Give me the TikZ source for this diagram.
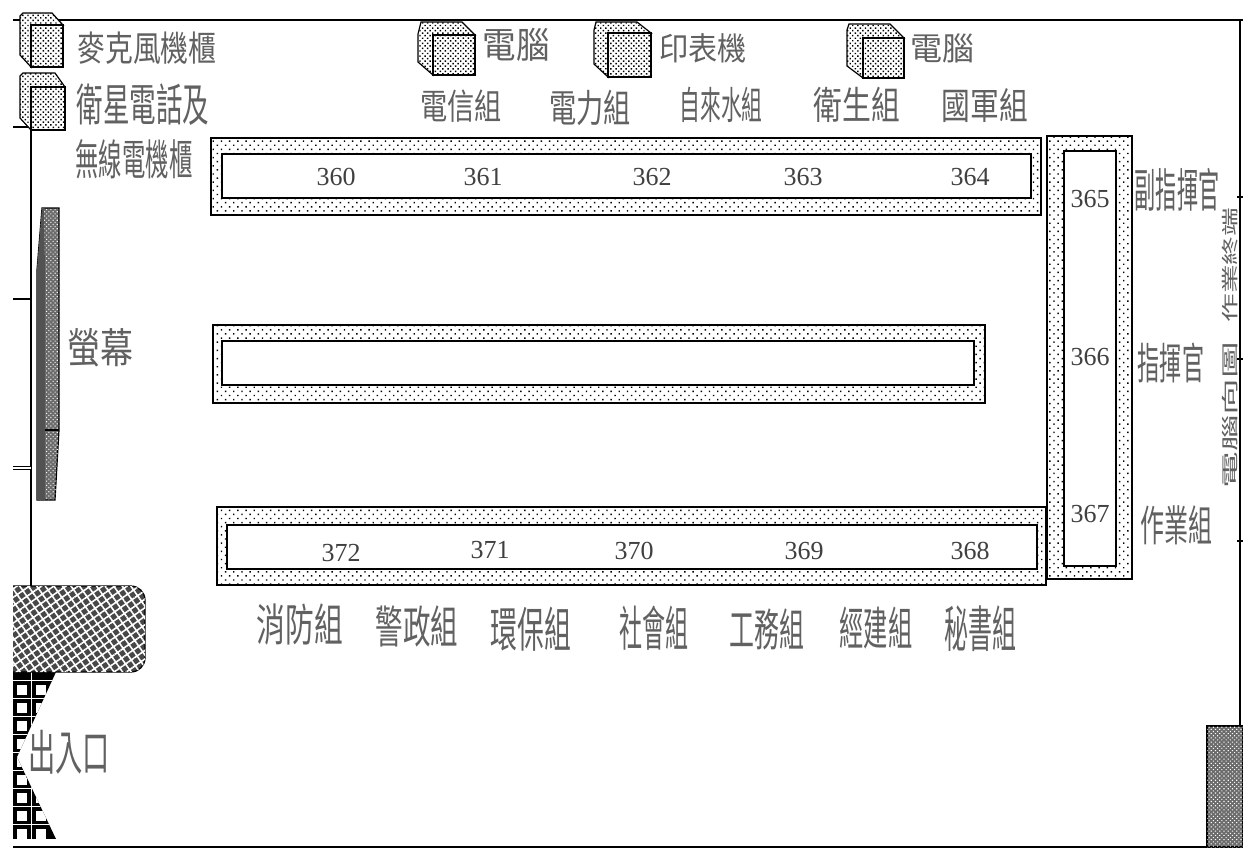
\documentclass[tikz,border=0pt]{standalone}
\usepackage{fontspec}
\setmainfont{Liberation Serif}
\newfontfamily\cjk{Noto Sans CJK TC}
\usetikzlibrary{patterns.meta}
\tikzset{
    deskouter/.style={draw,line width=1.5pt,pattern={Dots[distance=5.8pt,angle=45,radius=1pt]},pattern color=black},
    deskinner/.style={draw,line width=1.5pt,fill=white},
    wall/.style={draw,line width=1.3pt},
    dense/.style={draw,line width=1.2pt,fill=black!58,postaction={pattern={Dots[distance=3pt,angle=45,radius=.75pt]},pattern color=white}},
    cabside/.style={draw,line width=1.2pt,fill=white,postaction={pattern={Dots[distance=3.6pt,angle=45,radius=1pt]},pattern color=black}},
    cabfront/.style={draw,line width=1.5pt,fill=white,postaction={pattern={Dots[distance=3.6pt,angle=45,radius=1.05pt]},pattern color=black}},
}
\begin{document}
\begin{tikzpicture}[x=1pt,y=1pt,yscale=-1]
\useasboundingbox (0,0) rectangle (1243,863);
\fill[white] (0,0) rectangle (1243,863);

% walls
\draw[wall] (13,20) -- (1243,20);
\draw[wall] (13,847) -- (1243,847);
\draw[wall] (13,127) -- (31,127) -- (31,587);
\draw[line width=2.2pt] (13,299) -- (31,299);
\draw[line width=.9pt,double,double distance=1.5pt] (13,468) -- (31,468);
\draw[wall] (1240,20) -- (1240,726);
\draw[line width=2.2pt] (1237,197) -- (1243,197);
\draw[line width=2.2pt] (1237,359) -- (1243,359);
\draw[line width=1.5pt] (1237,541) -- (1243,541);

% desks
\path[deskouter] (211,138) rectangle (1041,215);
\path[deskinner] (222,154) rectangle (1031,198);
\path[deskouter] (213,325) rectangle (985,403);
\path[deskinner] (222,341) rectangle (974,385);
\path[deskouter] (217,507) rectangle (1046,585);
\path[deskinner] (227,525) rectangle (1037,569);
\path[deskouter] (1047,136) rectangle (1132,579);
\path[deskinner] (1064,151) rectangle (1116,566);

\begin{scope}[every node/.style={font=\fontsize{26}{26}\selectfont,text=black!75,inner sep=0pt}]
    \node (n360) at (336,177) {360};
    \node (n361) at (483,177) {361};
    \node (n362) at (652,177) {362};
    \node (n363) at (803,177) {363};
    \node (n364) at (970,177) {364};
    \node (n365) at (1090,199) {365};
    \node (n366) at (1090,357) {366};
    \node (n367) at (1090,514) {367};
    \node (n368) at (970,551) {368};
    \node (n369) at (804,551) {369};
    \node (n370) at (634,551) {370};
    \node (n371) at (490,550) {371};
    \node (n372) at (341,553) {372};
\end{scope}

% screen
\path[dense] (42,208) -- (59,208) -- (59,430) -- (55,500) -- (37,500) -- (37,270) -- cycle;
\fill[black!68] (42,208) -- (44,208) -- (45,270) -- (45,500) -- (37,500) -- (37,270) -- cycle;
\draw[line width=1.5pt] (45,430) -- (59,430);

% door
\begin{scope}
    \clip (13,672) -- (56,672) -- (17,757) -- (56,839) -- (13,839) -- cycle;
    \fill[black] (13,672) rectangle (56,839);
    \foreach \i in {0,...,8} {
        \fill[white] (17,685+18*\i) rectangle (27,695+18*\i);
        \fill[white] (36,685+18*\i) rectangle (46,695+18*\i);
        \draw[white,line width=.9pt] (13,680+18*\i) -- (56,680+18*\i);
    }
    \draw[white,line width=.9pt] (31.5,672) -- (31.5,839);
\end{scope}
\path[draw,line width=1.2pt,rounded corners=14pt,fill=black!72,postaction={pattern={Hatch[angle=35,distance=7pt,line width=1.6pt]},pattern color=white}] (13,586) -- (145,586) -- (145,672) -- (13,672);

% corner block
\path[dense] (1207,726) rectangle (1243,847);

% cabinets
\path[cabside] (20,16) -- (23,13) -- (52,13) -- (63,25) -- (31,25) -- (31,67) -- (20,55) -- cycle;
\path[cabfront] (31,25) rectangle (63,67);
\path[cabside] (20,76) -- (23,73) -- (55,73) -- (65,87) -- (31,87) -- (31,130) -- (20,118) -- cycle;
\path[cabfront] (31,87) rectangle (65,130);
\path[cabside] (418,34) -- (421,22) -- (462,22) -- (475,35) -- (433,35) -- (433,75) -- (418,62) -- cycle;
\path[cabfront] (433,35) rectangle (475,75);
\path[cabside] (594,30) -- (596,22) -- (637,22) -- (651,33) -- (608,33) -- (608,77) -- (594,64) -- cycle;
\path[cabfront] (608,33) rectangle (651,77);
\path[cabside] (847,30) -- (849,24) -- (890,24) -- (904,38) -- (863,38) -- (863,78) -- (847,66) -- cycle;
\path[cabfront] (863,38) rectangle (904,78);

% labels, glyph width and height set per label
\begin{scope}[every node/.style={font=\cjk\fontsize{32}{32}\selectfont,text=black!62,inner sep=0pt}]
    \node (mic) at (147,48) {\scalebox{.87}[1.1]{麥克風機櫃}};
    \node (sat) at (143,105) {\scalebox{.83}[1.4]{衛星電話及}};
    \node (radio) at (134,159) {\scalebox{.73}[1.33]{無線電機櫃}};
    \node (pc1) at (516,45) {\scalebox{1.05}[1.13]{電腦}};
    \node (prn) at (703,48) {\scalebox{.91}[1]{印表機}};
    \node (pc2) at (942,48) {\scalebox{1}[1]{電腦}};
    \node (tel) at (461,106) {\scalebox{.85}[1.1]{電信組}};
    \node (pow) at (590,108) {\scalebox{.85}[1.2]{電力組}};
    \node (wat) at (721,105) {\scalebox{.65}[1.2]{自來水組}};
    \node (hea) at (857,105) {\scalebox{.9}[1.2]{衛生組}};
    \node (arm) at (985,106) {\scalebox{.9}[1.15]{國軍組}};
    \node (dep) at (1177,190) {\scalebox{.66}[1.45]{副指揮官}};
    \node (com) at (1171,363) {\scalebox{.69}[1.35]{指揮官}};
    \node (ops) at (1176,525) {\scalebox{.75}[1.33]{作業組}};
    \node (scr) at (100,348) {\scalebox{1.03}[1.3]{螢幕}};
    \node (door) at (69,752) {\scalebox{.85}[1.5]{出入口}};
    \node (fir) at (300,624) {\scalebox{.9}[1.4]{消防組}};
    \node (pol) at (417,626) {\scalebox{.86}[1.4]{警政組}};
    \node (env) at (531,629) {\scalebox{.84}[1.5]{環保組}};
    \node (soc) at (654,628) {\scalebox{.72}[1.5]{社會組}};
    \node (eng) at (767,629) {\scalebox{.78}[1.4]{工務組}};
    \node (eco) at (876,628) {\scalebox{.76}[1.43]{經建組}};
    \node (sec) at (980,629) {\scalebox{.75}[1.55]{秘書組}};
    \node[rotate=90] (sideb) at (1230,415) {\scalebox{1.15}[.53]{電腦向圖}};
    \node[rotate=90] (sidet) at (1230,265) {\scalebox{.9}[.53]{作業終端}};
\end{scope}
\end{tikzpicture}
\end{document}
